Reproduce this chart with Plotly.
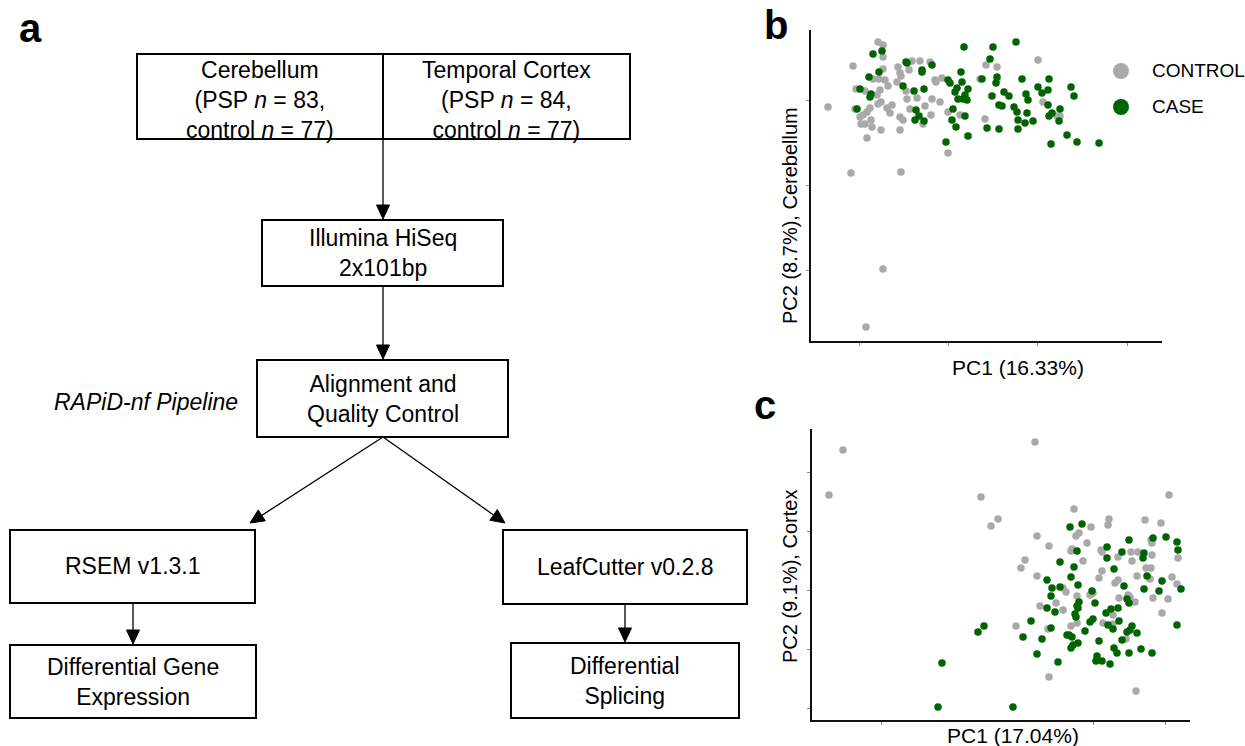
import plotly.graph_objects as go

W, H = 1245, 746
GRAY = "#A9A9A9"
GREEN = "#006400"
FONT = "Liberation Sans, Arial, sans-serif"

# ---------------- data (PC scores) ----------------
# Panel b: Cerebellum
ctrl_b_pc1 = [-15.9,-15.4,-15.4,-18.4,-15.4,-13.9,-13.7,-13.6,-12.5,-11.7,-10.7,-12.8,-16.4,-15.8,-15.2,-14.9,-14.0,-18.1,-17.2,-15.7,-16.0,-13.1,-12.0,-13.0,-10.5,-9.7,-10.2,-10.1,-9.5,-20.9,-18.2,-16.7,-17.0,-17.4,-17.7,-15.6,-15.9,-15.0,-14.7,-14.5,-12.7,-11.2,-10.6,-13.7,-13.4,-16.6,-17.6,-17.2,-16.5,-15.6,-13.7,-11.4,-17.0,-8.9,-7.7,-8.9,-5.2,-5.1,-4.0,-5.7,0.1,-4.0,0.6,2.0,2.3,-18.6,-13.6,-15.4,-17.1]
ctrl_b_pc2 = [5.8,5.5,4.3,3.4,3.1,3.3,2.7,2.4,3.9,3.9,3.8,3.0,2.1,2.1,2.0,1.4,1.8,1.1,0.9,1.0,0.5,0.9,0.2,0.1,0.1,-0.2,2.0,1.8,2.2,-0.7,-0.9,-0.8,-1.2,-1.5,-1.7,-0.2,-0.4,-0.8,-1.3,-0.5,-0.9,-0.6,-1.5,-1.7,-2.0,-2.0,-2.4,-2.4,-2.7,-3.0,-3.0,-2.4,-3.8,-1.2,-1.5,-5.3,-1.9,3.5,2.0,2.1,4.0,3.3,-0.2,-1.6,-1.6,-7.3,-7.2,-16.9,-22.7]
case_b_pc1 = [-16.4,-15.5,-7.3,-4.4,-4.7,-13.1,-13.0,-10.5,-15.8,-16.8,-11.5,-11.5,-13.4,-17.7,-16.6,-16.7,-12.3,-11.3,-8.9,-8.7,-7.6,-7.5,-8.0,-8.2,-6.9,-7.2,-7.9,-7.4,-7.0,-5.5,-4.1,-4.5,-3.8,-18.0,-12.1,-11.8,-12.2,-11.3,-8.4,-7.2,-8.5,-8.1,-9.1,-6.9,-5.0,-3.8,-2.1,-4.0,-1.5,1.2,0.1,1.1,3.4,3.7,-3.3,-2.8,-1.1,-0.9,0.5,-3.5,-2.3,-2.0,-1.0,1.1,2.3,1.5,1.2,2.2,-1.9,-1.2,-0.4,-1.9,3.0,4.0,1.4,6.2]
case_b_pc2 = [4.6,4.9,5.3,5.3,4.1,3.8,3.7,3.5,2.8,2.3,2.8,3.0,1.4,1.1,0.6,0.3,0.9,1.1,2.0,1.7,2.8,1.8,1.2,0.8,1.1,0.5,0.1,0.1,0.0,2.1,1.7,0.4,-0.5,-0.9,-1.0,-1.6,-2.0,-2.1,-0.9,-1.6,-2.0,-2.7,-4.2,-3.6,-2.8,-2.9,5.8,2.3,2.1,2.1,1.3,1.0,1.3,0.4,0.8,0.4,0.6,0.0,0.7,-0.6,-0.7,-1.2,-1.3,-0.5,-0.9,-1.3,-1.6,-2.1,-2.0,-2.3,-2.1,-2.9,-3.5,-4.2,-4.4,-4.3]

# Panel c: Temporal cortex
ctrl_c_pc1 = [-25.0,-26.4,-5.8,-11.2,-10.2,-9.5,7.6,-1.9,1.6,1.5,5.2,6.8,-0.2,-1.4,-1.7,-5.6,-0.6,-4.4,-2.1,-2.2,0.8,0.9,5.8,5.9,3.8,4.5,5.9,2.5,8.5,-1.0,3.9,-6.8,-7.2,5.3,5.8,0.9,-5.6,4.4,0.6,5.7,7.9,2.5,2.2,8.4,-3.0,-2.7,0.0,-0.3,-1.6,3.5,3.7,2.6,6.0,7.5,4.2,-3.7,-5.3,-7.7,-4.5,-3.0,-2.2,-1.6,1.0,2.0,2.0,3.3,6.9,-4.4,4.3]
ctrl_c_pc2 = [14.0,9.5,14.8,9.3,6.4,7.1,9.5,8.1,7.1,6.5,7.0,6.7,6.3,5.7,5.4,5.4,4.7,4.4,4.1,3.9,4.0,3.8,5.0,4.7,3.8,3.8,3.5,3.3,3.2,2.9,2.9,3.0,2.2,2.2,2.2,1.9,1.4,1.4,1.2,1.1,1.3,1.0,0.7,0.6,0.2,-0.2,-0.3,-0.5,-0.6,-0.5,-0.7,-0.8,-0.8,-0.9,-1.2,-1.3,-1.6,-3.6,-3.9,-2.0,-3.6,-3.3,-3.3,-2.5,-3.4,-4.9,-2.3,-8.7,-10.1]
case_c_pc1 = [-2.3,-1.1,3.6,6.0,7.3,8.4,8.5,1.4,-1.6,2.9,5.1,5.0,1.4,-3.3,-1.9,2.1,-2.2,5.4,6.9,-4.6,-1.5,-4.1,-3.3,3.1,5.1,6.6,8.8,-0.1,-4.2,-1.4,0.2,3.4,3.6,-1.6,1.8,2.5,-4.6,-3.8,-1.5,-1.8,-1.7,1.3,2.6,0.0,-0.3,1.5,2.0,3.9,3.7,3.4,4.4,2.9,8.4,-6.2,-4.2,-0.8,-2.4,-2.1,-2.6,-7.0,-5.1,-1.5,-2.0,-2.2,0.6,2.1,2.4,3.6,4.8,5.9,-5.6,-3.5,0.4,0.3,0.9,1.7,-10.9,-11.5,-15.1,-15.5,-8.0]
case_c_pc2 = [6.3,6.6,5.0,5.2,5.3,4.8,4.0,4.3,3.9,3.8,3.7,3.2,3.2,2.8,2.3,2.1,1.3,1.4,0.9,1.0,0.5,0.2,0.3,0.4,0.1,-0.1,0.1,-0.1,-0.6,-1.2,-1.3,-0.9,-1.3,-1.6,-1.9,-1.8,-1.8,-2.2,-1.8,-2.4,-2.7,-2.3,-3.1,-2.9,-3.2,-3.5,-3.9,-3.6,-4.0,-4.2,-4.3,-5.0,-3.5,-3.1,-3.8,-4.1,-4.5,-4.7,-4.5,-4.7,-4.9,-5.3,-5.5,-5.8,-5.1,-5.8,-6.3,-6.3,-5.9,-6.3,-6.4,-7.2,-6.6,-7.1,-7.1,-7.4,-3.6,-4.2,-7.3,-11.7,-11.7]

legend_labels = ["CONTROL", "CASE"]
b_xlabel, b_ylabel = "PC1 (16.33%)", "PC2 (8.7%), Cerebellum"
c_xlabel, c_ylabel = "PC1 (17.04%)", "PC2 (9.1%), Cortex"

# flowchart content
top_left_text = "Cerebellum<br>(PSP <i>n</i> = 83,<br>control <i>n</i> = 77)"
top_right_text = "Temporal Cortex<br>(PSP <i>n</i> = 84,<br>control <i>n</i> = 77)"
step_texts = ["Illumina HiSeq<br>2x101bp", "Alignment and<br>Quality Control",
              "RSEM v1.3.1", "LeafCutter v0.2.8",
              "Differential Gene<br>Expression", "Differential<br>Splicing"]
pipeline_label = "<i>RAPiD-nf Pipeline</i>"

# ---------------- helpers ----------------
def px(x):
    return x / W

def py(y):
    return 1 - y / H

fig = go.Figure()

marker_size = 7.5
fig.add_trace(go.Scatter(x=ctrl_b_pc1, y=ctrl_b_pc2, mode="markers", xaxis="x", yaxis="y",
                         marker=dict(color=GRAY, size=marker_size), name="CONTROL", showlegend=False))
fig.add_trace(go.Scatter(x=case_b_pc1, y=case_b_pc2, mode="markers", xaxis="x", yaxis="y",
                         marker=dict(color=GREEN, size=marker_size), name="CASE", showlegend=False))
fig.add_trace(go.Scatter(x=ctrl_c_pc1, y=ctrl_c_pc2, mode="markers", xaxis="x2", yaxis="y2",
                         marker=dict(color=GRAY, size=marker_size), name="CONTROL", showlegend=False))
fig.add_trace(go.Scatter(x=case_c_pc1, y=case_c_pc2, mode="markers", xaxis="x2", yaxis="y2",
                         marker=dict(color=GREEN, size=marker_size), name="CASE", showlegend=False))

ax_common = dict(showgrid=False, zeroline=False, showline=True, linecolor="#111", linewidth=1.6,
                 ticks="outside", ticklen=3, tickwidth=1, tickcolor="#888", showticklabels=False)

fig.update_layout(
    width=W, height=H, autosize=False,
    margin=dict(l=0, r=0, t=0, b=0),
    paper_bgcolor="white", plot_bgcolor="white",
    xaxis=dict(domain=[px(811), px(1162)], range=[-22.6, 12.5], anchor="y",
               tickvals=[-17.8, -8.9, 0, 9.0], **ax_common),
    yaxis=dict(domain=[py(341), py(30)], range=[-24.1, 7.0], anchor="x",
               tickvals=[0, -8.5, -17.0], **ax_common),
    xaxis2=dict(domain=[px(812), px(1190)], range=[-28.1, 9.7], anchor="y2",
                tickvals=[-21.2, 0, 7.2], **ax_common),
    yaxis2=dict(domain=[py(720), py(429)], range=[-13.0, 16.1], anchor="x2",
                tickvals=[11.8, 5.9, 0, -5.9, -11.8], **ax_common),
)

shapes = []
annotations = []

def box(x0, y0, x1, y1):
    shapes.append(dict(type="rect", xref="paper", yref="paper", x0=px(x0), x1=px(x1),
                       y0=py(y1), y1=py(y0), line=dict(color="black", width=2),
                       fillcolor="rgba(0,0,0,0)"))

def text(x, y, t, size=23, **kw):
    annotations.append(dict(x=px(x), y=py(y), xref="paper", yref="paper", text=t,
                            showarrow=False, xanchor="center", yanchor="middle",
                            font=dict(family=FONT, size=size, color="black"), **kw))

def arrow(x0, y0, x1, y1, L=14, hw=6.5):
    dx, dy = x1 - x0, y1 - y0
    n = (dx * dx + dy * dy) ** 0.5
    ux, uy = dx / n, dy / n
    bx, by = x1 - L * ux, y1 - L * uy
    nx, ny = -uy, ux
    shapes.append(dict(type="line", xref="paper", yref="paper", x0=px(x0), y0=py(y0),
                       x1=px(bx), y1=py(by), line=dict(color="black", width=1.3)))
    pts = [(x1, y1), (bx + hw * nx, by + hw * ny), (bx - hw * nx, by - hw * ny)]
    path = "M " + " L ".join(f"{px(a):.5f},{py(b):.5f}" for a, b in pts) + " Z"
    shapes.append(dict(type="path", xref="paper", yref="paper", path=path,
                       fillcolor="black", line=dict(color="black", width=1)))

# top double box
box(137, 54, 630, 139)
shapes.append(dict(type="line", xref="paper", yref="paper", x0=px(383), x1=px(383),
                   y0=py(54), y1=py(139), line=dict(color="black", width=2)))
text(260, 100, top_left_text)
text(506, 100, top_right_text)

arrow(383, 139, 383, 219)
box(262, 220, 503, 286)
text(383, 253, step_texts[0])
arrow(383, 286, 383, 359)
box(257, 360, 508, 437)
text(383, 399, step_texts[1])
text(146, 402, pipeline_label, size=23)

arrow(383, 437, 250, 523)
arrow(383, 437, 505, 523)
box(10, 530, 255, 603)
text(133, 566, step_texts[2])
box(503, 530, 747, 604)
text(625, 567, step_texts[3])
arrow(133, 603, 133, 644)
arrow(625, 604, 625, 642)
box(10, 645, 256, 718)
text(133, 682, step_texts[4])
box(511, 643, 739, 718)
text(625, 681, step_texts[5])

# panel labels
for lab, lx, ly in [("a", 30, 28), ("b", 776, 25), ("c", 765, 405)]:
    annotations.append(dict(x=px(lx), y=py(ly), xref="paper", yref="paper", text=f"<b>{lab}</b>",
                            showarrow=False, xanchor="center", yanchor="middle",
                            font=dict(family=FONT, size=40, color="black")))

# axis titles
text(1018, 367, b_xlabel, size=21)
text(790, 216, b_ylabel, size=20, textangle=-90)
text(1013, 735, c_xlabel, size=21)
text(790, 577, c_ylabel, size=20, textangle=-90)

# legend (panel b)
for (cy, col, lab) in [(71, GRAY, legend_labels[0]), (107, GREEN, legend_labels[1])]:
    shapes.append(dict(type="circle", xref="paper", yref="paper", x0=px(1113), x1=px(1129),
                       y0=py(cy + 8), y1=py(cy - 8), fillcolor=col, line=dict(width=0)))
    annotations.append(dict(x=px(1150), y=py(cy), xref="paper", yref="paper", text=lab,
                            showarrow=False, xanchor="left", yanchor="middle",
                            font=dict(family=FONT, size=19, color="black")))

fig.update_layout(shapes=shapes, annotations=annotations)

fig.write_html("out.html", include_plotlyjs=True, config={"displayModeBar": False},
               post_script="document.body.style.margin='0';document.body.style.overflow='hidden';")
